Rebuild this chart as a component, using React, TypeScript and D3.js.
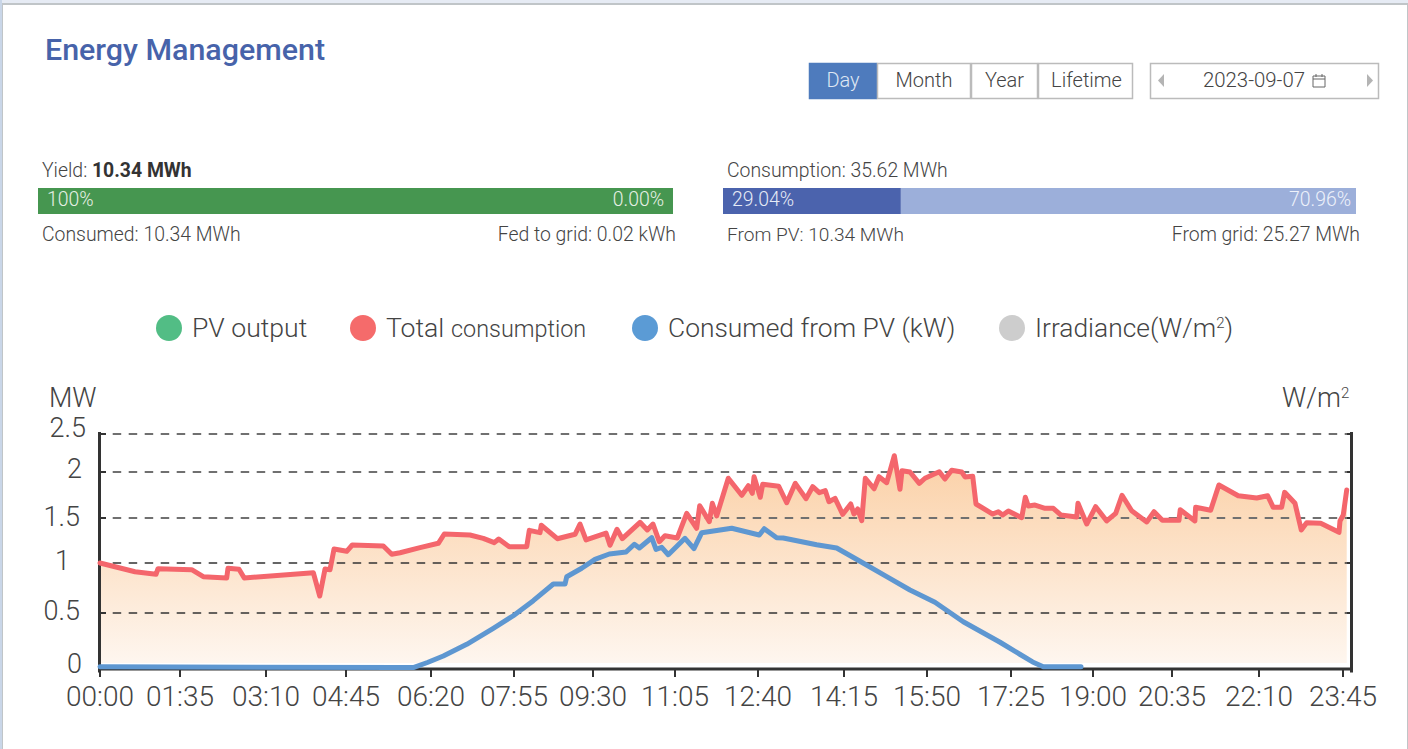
import React, { useEffect, useRef } from 'react';
import * as d3 from 'd3';

const yTicks = [0, 0.5, 1, 1.5, 2, 2.5];
const yTickLabels = ['0', '0.5', '1', '1.5', '2', '2.5'];
const timeLabels = ['00:00','01:35','03:10','04:45','06:20','07:55','09:30','11:05','12:40','14:15','15:50','17:25','19:00','20:35','22:10','23:45'];

// minute of day and MW
const totalMinutes = [0,41.6,66.5,68.9,107.9,120.7,146.6,148,160.2,166,246.2,253.8,260.1,266,270.8,285.8,292,326.7,336.1,345.4,367.7,388.4,395.2,424.6,439.8,452.4,457.5,469.6,490.3,493.4,506.3,507.8,527.1,548.4,554.4,561.6,585.1,589.7,597.8,604,624.5,632.9,639.5,646.8,653.4,667.6,678.4,689.8,693.3,704.3,707.7,712.7,726,741.4,749,753.5,755.5,762.5,765.2,782.9,791.7,801.2,813,820.4,827.7,834.4,838.4,845.1,853.6,862.7,866.4,870.7,875.3,879.4,889.4,895.1,903.9,912.6,919.1,921.4,930.5,941.2,947.7,963.9,970.3,977.9,989.2,993,1001.7,1005.4,1024.3,1030.7,1035.6,1042,1057.4,1061.6,1065,1072.8,1084.4,1094,1102.6,1121.1,1122.6,1132.7,1143.2,1156.5,1167.3,1174.9,1186.5,1204.6,1213.4,1223.4,1242.6,1244,1260,1260.8,1277.2,1286.2,1307.3,1327.5,1339.8,1346.1,1355.6,1359,1370.7,1377.8,1383.9,1399.8,1420.5,1421.6,1425.3,1429.2];
const totalValues = [1,0.913,0.887,0.943,0.933,0.863,0.85,0.947,0.937,0.85,0.903,0.67,0.94,0.933,1.156,1.13,1.2,1.189,1.097,1.114,1.17,1.219,1.322,1.311,1.274,1.226,1.267,1.181,1.181,1.363,1.337,1.419,1.27,1.319,1.433,1.256,1.333,1.197,1.374,1.27,1.452,1.367,1.433,1.237,1.303,1.278,1.551,1.386,1.634,1.459,1.66,1.522,1.932,1.747,1.851,1.768,1.949,1.725,1.866,1.845,1.666,1.877,1.71,1.84,1.775,1.797,1.677,1.714,1.54,1.652,1.543,1.598,1.47,1.932,1.818,1.949,1.884,2.214,1.812,2.017,2,1.877,1.932,2.004,1.924,2.022,2,1.946,1.953,1.652,1.543,1.568,1.533,1.576,1.503,1.725,1.63,1.641,1.605,1.605,1.533,1.511,1.66,1.433,1.623,1.467,1.551,1.747,1.579,1.456,1.568,1.474,1.474,1.59,1.467,1.616,1.584,1.859,1.742,1.717,1.742,1.616,1.616,1.779,1.66,1.367,1.448,1.441,1.341,1.467,1.533,1.804];

const pvMinutes = [0,345.4,360.2,376,394.1,420.9,451.3,474.2,498.2,522.3,536.4,538.4,556.4,572.3,588.9,608.3,617.9,623.7,638,643,649.6,657.2,676.4,686.7,695.6,729.9,761.4,766.9,780.6,787.9,824.8,846.9,873.3,903.9,930.5,959,991,1032.6,1055.2,1070,1082.4,1126.1];
const pvValues = [0.012,0.004,0.004,0.05,0.109,0.215,0.361,0.475,0.623,0.79,0.79,0.863,0.947,1.041,1.1,1.122,1.208,1.167,1.281,1.152,1.174,1.092,1.274,1.159,1.337,1.386,1.311,1.381,1.281,1.278,1.203,1.167,1.019,0.863,0.73,0.607,0.42,0.234,0.125,0.055,0.012,0.012];

const legendLabels = ['PV output', 'Total', 'consumption', 'Consumed from PV (kW)', 'Irradiance(W/m'];
const viewTabs = ['Day', 'Month', 'Year', 'Lifetime'];
const yieldPercent = [100];
const consumptionPercent = [28.1, 71.9];

export default function App() {
  const ref = useRef<SVGSVGElement>(null);
  useEffect(() => {
    const svg = d3.select(ref.current);
    svg.selectAll('*').remove();
    const font = 'Roboto, sans-serif';
    const ink = '#444';
    const x = d3.scaleLinear()
      .domain(timeLabels.map((_, i) => i * 95))
      .range([100, 180, 266, 346, 431, 514, 593, 675, 758, 844, 927, 1011, 1093, 1172, 1259, 1343]);
    const y = d3.scaleLinear().domain(yTicks).range([668, 613, 563, 518, 472, 434]);
    const fillBottom = 663;

    const text = (s: string, tx: number, ty: number, size: number, opt: any = {}) =>
      svg.append('text').attr('x', tx).attr('y', ty).text(s)
        .attr('font-family', font).attr('font-size', size)
        .attr('font-weight', opt.weight ?? 300).attr('fill', opt.fill ?? ink)
        .attr('text-anchor', opt.anchor ?? 'start');

    // page + card
    svg.append('rect').attr('width', 1408).attr('height', 749).attr('fill', '#e6ebf4');
    svg.append('rect').attr('x', 0).attr('y', 0).attr('width', 2).attr('height', 749).attr('fill', '#c9d6e8');
    svg.append('rect').attr('x', 2).attr('y', 3).attr('width', 1406).attr('height', 746).attr('fill', '#c0c5c8');
    svg.append('rect').attr('x', 3).attr('y', 5).attr('width', 1404).attr('height', 744).attr('fill', '#fff');

    text('Energy Management', 45, 60, 30.4, { weight: 500, fill: '#4763aa' });

    // tabs
    const tabEdges = [809, 877, 971, 1038, 1133];
    viewTabs.forEach((t, i) => {
      const a = tabEdges[i], b = tabEdges[i + 1];
      svg.append('rect').attr('x', a + 0.5).attr('y', 63.5).attr('width', b - a - 1).attr('height', 35)
        .attr('fill', i === 0 ? '#4e7bbd' : '#fff').attr('stroke', i === 0 ? '#4e7bbd' : '#bbb').attr('stroke-width', 1.5);
      text(t, (a + b) / 2 - (i === 3 ? -1 : 0), 87, 20, { anchor: 'middle', fill: i === 0 ? '#dfe7f3' : ink });
    });
    svg.append('rect').attr('x', 1150.5).attr('y', 63.5).attr('width', 228).attr('height', 35)
      .attr('fill', '#fff').attr('stroke', '#bbb').attr('stroke-width', 1.5);
    text('2023-09-07', 1254, 87, 20.4, { anchor: 'middle' });
    svg.append('path').attr('d', 'M1313 76h12v11h-12z M1313 79h12 M1316 74v3 M1322 74v3').attr('fill', 'none').attr('stroke', '#666').attr('stroke-width', 1);
    svg.append('path').attr('d', 'M1164 74l-6 6.5 6 6.5z').attr('fill', '#b4b4b4');
    svg.append('path').attr('d', 'M1367 74l6 6.5-6 6.5z').attr('fill', '#b4b4b4');

    // summary bars
    const yx = d3.scaleLinear().domain([0, 100]).range([38, 673]);
    svg.append('rect').attr('x', yx(0)).attr('y', 188).attr('width', yx(yieldPercent[0]) - yx(0)).attr('height', 26).attr('fill', '#469650');
    const cx = d3.scaleLinear().domain([0, 100]).range([723, 1356]);
    svg.append('rect').attr('x', cx(0)).attr('y', 188).attr('width', cx(consumptionPercent[0]) - cx(0)).attr('height', 26).attr('fill', '#4b63ad');
    svg.append('rect').attr('x', cx(consumptionPercent[0])).attr('y', 188).attr('width', cx(100) - cx(consumptionPercent[0])).attr('height', 26).attr('fill', '#9cafda');

    const s = 19.4;
    const yl = text('Yield: ', 42, 177, s);
    yl.append('tspan').attr('font-weight', 700).attr('fill', '#333').text('10.34 MWh');
    text('100%', 47, 206, s, { fill: '#e6f0e6' });
    text('0.00%', 664, 206, s, { fill: '#e6f0e6', anchor: 'end' });
    text('Consumed: 10.34 MWh', 42, 241, s);
    text('Fed to grid: 0.02 kWh', 676, 241, s, { anchor: 'end' });
    text('Consumption: 35.62 MWh', 727, 177, s);
    text('29.04%', 732, 206, s, { fill: '#e6ebf6' });
    text('70.96%', 1351, 206, s, { fill: '#eef2fa', anchor: 'end' });
    text('From PV: 10.34 MWh', 727, 241, 19.1);
    text('From grid: 25.27 MWh', 1360, 241, s, { anchor: 'end' });

    // legend
    const lc = ['#52bd85', '#f56b6b', '#5b9bd5', '#cdcdcd'];
    [169, 363, 645, 1012].forEach((c, i) => svg.append('circle').attr('cx', c).attr('cy', 328).attr('r', 13).attr('fill', lc[i]));
    text(legendLabels[0], 192, 337, 26.6);
    text(legendLabels[1], 386, 337, 26.6);
    text(legendLabels[2], 451, 337, 23.4);
    text(legendLabels[3], 668, 337, 26.4);
    const ir = text(legendLabels[4], 1035, 337, 26.4);
    ir.append('tspan').attr('dy', -9).attr('font-size', 15).text('2');
    ir.append('tspan').attr('dy', 9).text(')');

    // area + gradient
    const defs = svg.append('defs');
    const g = defs.append('linearGradient').attr('id', 'areaFill').attr('x1', 0).attr('x2', 0).attr('y1', 0).attr('y2', 1);
    g.append('stop').attr('offset', 0).attr('stop-color', '#fbd0a6');
    g.append('stop').attr('offset', 1).attr('stop-color', '#fef6ef');
    const total = totalMinutes.map((m, i) => [m, totalValues[i]] as [number, number]);
    const pv = pvMinutes.map((m, i) => [m, pvValues[i]] as [number, number]);
    const area = d3.area<[number, number]>().x(d => x(d[0])).y0(fillBottom).y1(d => y(d[1]));
    svg.append('path').attr('d', area(total)!).attr('fill', 'url(#areaFill)');

    // grid
    yTicks.slice(1).forEach((v, i) => {
      svg.append('line').attr('x1', 112.7).attr('x2', 1347).attr('y1', y(v)).attr('y2', y(v))
        .attr('stroke', i < 2 ? '#333' : '#707070').attr('stroke-width', i < 2 ? 1.4 : 2).attr('stroke-dasharray', '8.5 7.5');
    });

    // axes
    const axis = '#333';
    svg.append('path').attr('d', 'M99.5 432V672.5 M1351.5 432V672.5 M99.5 669H1351.5').attr('stroke', axis).attr('stroke-width', 3).attr('fill', 'none');
    timeLabels.forEach((t, i) => {
      const tx = x(i * 95);
      svg.append('line').attr('x1', tx).attr('x2', tx).attr('y1', 669).attr('y2', 677).attr('stroke', axis).attr('stroke-width', 2);
      text(t, tx, 706, 28, { anchor: 'middle' });
    });
    yTicks.forEach((v, i) => {
      if (v > 0) {
        svg.append('line').attr('x1', 100).attr('x2', 106).attr('y1', y(v)).attr('y2', y(v)).attr('stroke', axis).attr('stroke-width', 2);
        svg.append('line').attr('x1', 1347).attr('x2', 1351).attr('y1', y(v)).attr('y2', y(v)).attr('stroke', axis).attr('stroke-width', 2);
      }
      const ly = [672.5, 620, 570, 526, 478, 437][i];
      const lx = [82, 80, 70, 80, 82, 86][i];
      text(yTickLabels[i], lx, ly, 27, { anchor: 'end' });
    });
    text('MW', 49, 406.5, 27);
    const wm = text('W/m', 1282, 406.5, 27);
    wm.append('tspan').attr('dy', -9).attr('font-size', 15).text('2');

    const line = d3.line<[number, number]>().x(d => x(d[0])).y(d => y(d[1]));
    svg.append('path').attr('d', line(total)!).attr('fill', 'none').attr('stroke', '#f4666c').attr('stroke-width', 5).attr('stroke-linejoin', 'round').attr('stroke-linecap', 'round');
    svg.append('path').attr('d', line(pv)!).attr('fill', 'none').attr('stroke', '#5e97d1').attr('stroke-width', 5).attr('stroke-linejoin', 'round').attr('stroke-linecap', 'round');
  }, []);
  return <svg ref={ref} width={1408} height={749} style={{ position: 'absolute', left: 0, top: 0 }} />;
}
